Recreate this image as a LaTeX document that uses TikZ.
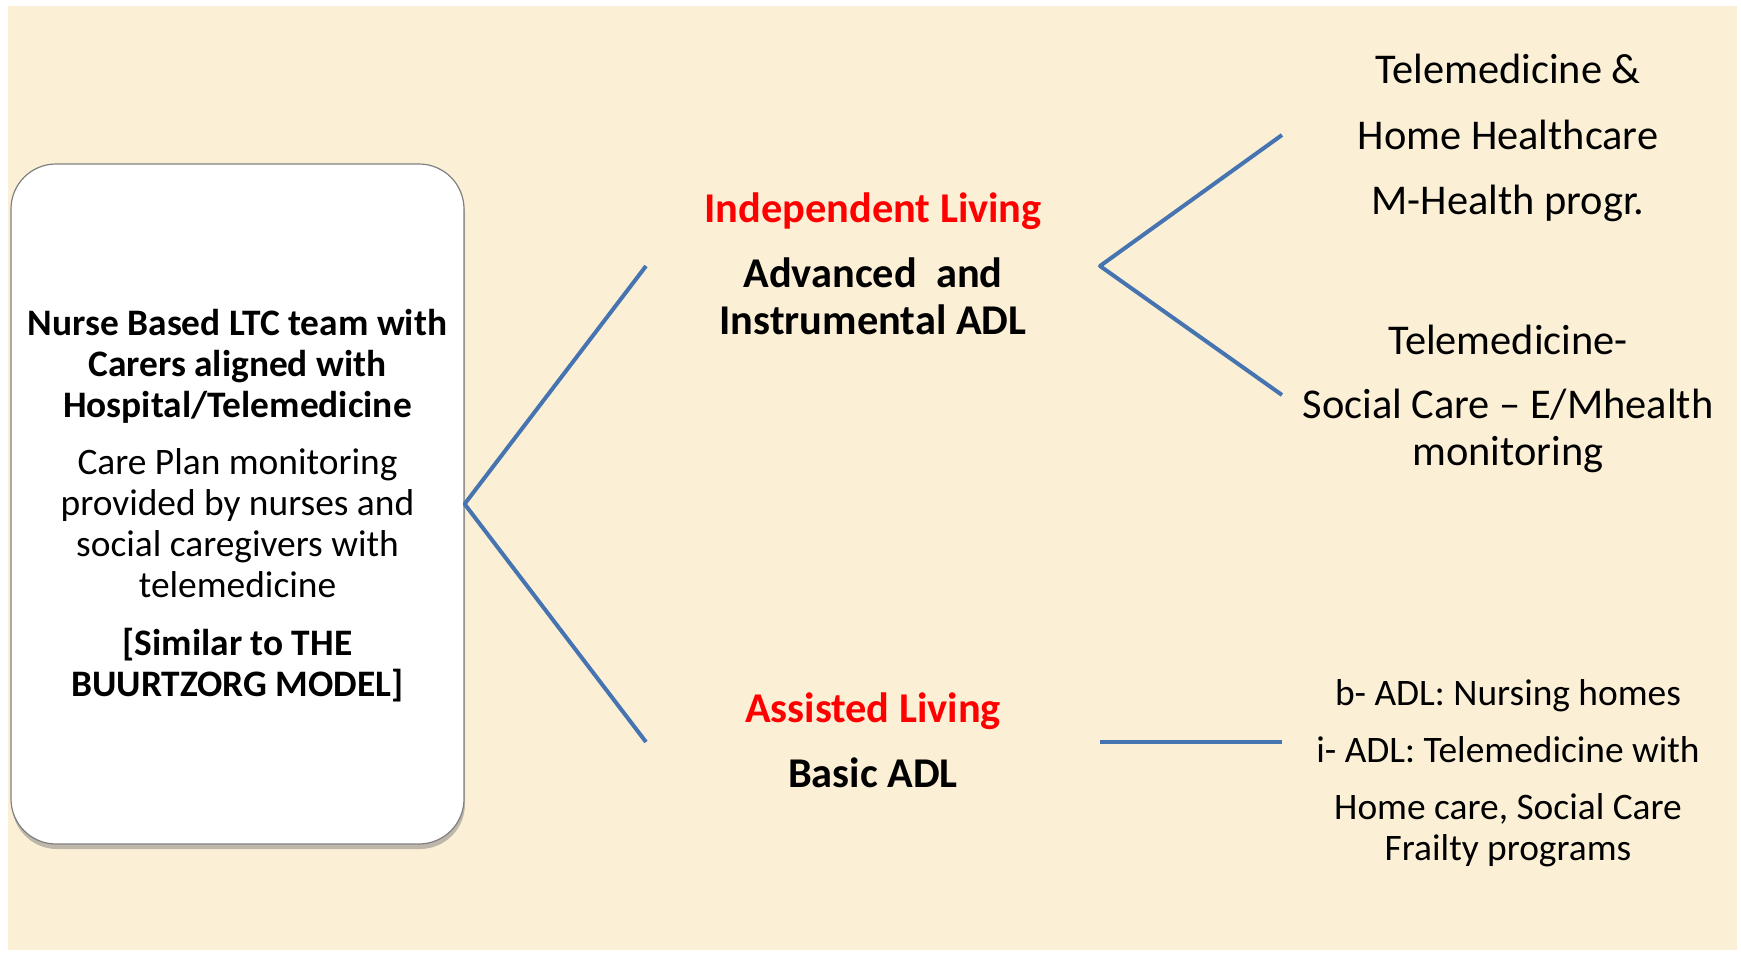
\documentclass[tikz,border=0pt]{standalone}
\usepackage{fontspec}
\setmainfont{Carlito}
\usetikzlibrary{calc, shadows}

\definecolor{parchment}{HTML}{FBEFD6}
\definecolor{linkblue}{HTML}{4574B0}
\definecolor{boxgray}{HTML}{808080}

\tikzset{
  big/.style={font={\fontsize{42.4}{65.5}\selectfont}, align=center, inner sep=0pt},
  mid/.style={font={\fontsize{42.4}{47}\selectfont\bfseries}, align=center, inner sep=0pt},
  small/.style={font={\fontsize{37.4}{41}\selectfont}, align=center, inner sep=0pt},
  boxtext/.style={font={\fontsize{37.4}{41}\selectfont}, align=center, inner sep=0pt},
  boxbold/.style={font={\fontsize{37.4}{41}\selectfont\bfseries}, align=center, inner sep=0pt},
  link/.style={linkblue, line width=4pt},
}

\begin{document}
\begin{tikzpicture}[x=1pt, y=-1pt, line join=round]
    \useasboundingbox (0,0) rectangle (1741,953);
    \fill[white] (0,0) rectangle (1741,953);
    \fill[parchment] (8,6) rectangle (1737,950);

    % left box
    \node[draw=boxgray, line width=1.2pt, fill=white, rounded corners=45pt,
          minimum width=453pt, minimum height=680pt, inner sep=0pt,
          drop shadow={shadow xshift=1pt, shadow yshift=-5pt, opacity=0.5}]
          (care) at (237.5,504) {};
    \node[boxbold] (team) at (237.5,366)
          {Nurse Based LTC team with\\Carers aligned with\\Hospital/Telemedicine};
    \node[boxtext] (plan) at (237.5,523.5)
          {Care Plan monitoring\\provided by nurses and\\social caregivers with\\telemedicine};
    \node[boxbold] (model) at (237.5,665)
          {[Similar to THE\\BUURTZORG MODEL]};

    % middle column
    \node[mid, text=red] (indep) at (873,211) {Independent Living};
    \node[mid] (adv) at (873,296.5) {Advanced~~and\\Instrumental ADL};
    \node[mid, text=red] (assist) at (873,711) {Assisted Living};
    \node[mid] (basic) at (873,773) {Basic ADL};

    % right column
    \node[big] (home) at (1508,138) {Telemedicine \&\\Home Healthcare\\M-Health progr.};
    \node[big, font={\fontsize{42.4}{47}\selectfont}] (social) at (1508,399)
          {Telemedicine-\\[17pt]Social Care – E/Mhealth\\monitoring};
    \node[small] (nursing) at (1508,773)
          {b- ADL: Nursing homes\\[16pt]i- ADL: Telemedicine with\\[16pt]Home care, Social Care\\Frailty programs};

    % connectors
    \coordinate (hub) at (care.east);
    \coordinate (a1) at (646,266);
    \coordinate (a2) at (646,742);
    \coordinate (b0) at (1100,266);
    \coordinate (b1) at (1282,135);
    \coordinate (b2) at (1282,395);
    \coordinate (c0) at (1100,742);
    \coordinate (c1) at (1282,742);
    \draw[link] (a1) -- (hub) -- (a2);
    \draw[link] (b1) -- (b0) -- (b2);
    \draw[link] (c0) -- (c1);
\end{tikzpicture}
\end{document}
